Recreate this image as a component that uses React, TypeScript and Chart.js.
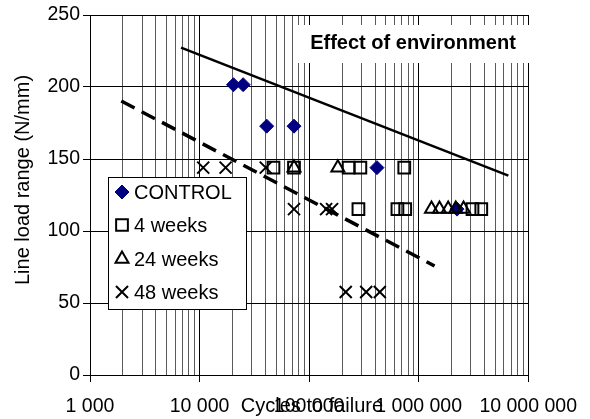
import React, { useEffect, useRef } from 'react';
import { Chart, registerables } from 'chart.js';
import { drawPoint } from 'chart.js/helpers';

Chart.register(...registerables);

// ---- Data ----
const controlX = [20400, 25000, 41000, 72800, 416000, 2240000];
const controlY = [201.6, 201.6, 172.8, 172.8, 144, 115.2];

const weeks4X = [47300, 72800, 229500, 293700, 739000, 282000, 640000, 754000, 3100000, 3730000];
const weeks4Y = [144, 144, 144, 144, 144, 115.2, 115.2, 115.2, 115.2, 115.2];

const weeks24X = [72800, 183000, 1310000, 1550000, 1860000, 2180000, 2570000];
const weeks24Y = [144, 144, 115.2, 115.2, 115.2, 115.2, 115.2];

const weeks48X = [10800, 17300, 40200, 72800, 143000, 162000, 216000, 332000, 442000];
const weeks48Y = [144, 144, 144, 115.2, 115.2, 115.2, 57.6, 57.6, 57.6];

const solidLineX = [6780, 6590000];
const solidLineY = [227.3, 138.4];

const dashedLineX = [1930, 1397000];
const dashedLineY = [190.3, 75.7];

const seriesLabels = ['CONTROL', '4 weeks', '24 weeks', '48 weeks'];

const xDecades = [1000, 10000, 100000, 1000000, 10000000];
const xTickLabels = ['1 000', '10 000', '100 000', '1 000 000', '10 000 000'];
const xMultipliers = [1, 2, 3, 4, 5, 6, 7, 8, 9];
const yTickStep = 50;
const yMin = 0;
const yMax = 250;

const xTitle = 'Cycles to failure';
const yTitle = 'Line load range (N/mm)';
const noteText = 'Effect of environment';

const FONT = '"Liberation Sans", Arial, sans-serif';

const pts = (xs: number[], ys: number[]) => xs.map((x, i) => ({ x, y: ys[i] }));

const xGridValues: number[] = [];
xDecades.forEach((d, i) => {
  if (i === xDecades.length - 1) {
    xGridValues.push(d);
  } else {
    xMultipliers.forEach((m) => xGridValues.push(d * m));
  }
});

const isDecade = (v: number) => xDecades.some((d) => Math.abs(d - v) < 1e-6 * d);

const overlayPlugin = {
  id: 'overlay',
  beforeDatasetsDraw(chart: any) {
    const ctx = chart.ctx;
    ctx.save();
    ctx.fillStyle = '#ffffff';
    ctx.fillRect(297, 25, 240, 38);
    ctx.fillStyle = '#000';
    ctx.font = `bold 20px ${FONT}`;
    ctx.textAlign = 'center';
    ctx.textBaseline = 'middle';
    ctx.fillText(noteText, 413, 43);
    ctx.restore();
  },
  afterDraw(chart: any) {
    const ctx = chart.ctx;
    ctx.save();
    // Legend box
    const lx = 108, ly = 177, lw = 138, lh = 132;
    ctx.fillStyle = '#fff';
    ctx.fillRect(lx, ly, lw, lh);
    ctx.strokeStyle = '#000';
    ctx.lineWidth = 1;
    ctx.strokeRect(lx + 0.5, ly + 0.5, lw, lh);
    const rowYs = [192, 225, 259, 292];
    seriesLabels.forEach((label, i) => {
      const ds = chart.data.datasets[i];
      ctx.save();
      ctx.fillStyle = ds.backgroundColor;
      ctx.strokeStyle = ds.borderColor;
      ctx.lineWidth = ds.borderWidth;
      drawPoint(ctx, { pointStyle: ds.pointStyle, radius: ds.pointRadius, rotation: 0, borderWidth: ds.borderWidth }, 122, rowYs[i]);
      ctx.restore();
      ctx.fillStyle = '#000';
      ctx.font = `20px ${FONT}`;
      ctx.textAlign = 'left';
      ctx.textBaseline = 'middle';
      ctx.fillText(label, 134, rowYs[i] + 1);
    });
    // Axis titles
    ctx.fillStyle = '#000';
    ctx.font = `20px ${FONT}`;
    ctx.textAlign = 'center';
    ctx.textBaseline = 'middle';
    ctx.fillText(xTitle, 312, 406);
    ctx.translate(23, 180);
    ctx.rotate(-Math.PI / 2);
    ctx.fillText(yTitle, 0, 0);
    ctx.restore();
  },
};

export default function App() {
  const ref = useRef<HTMLCanvasElement | null>(null);

  useEffect(() => {
    if (!ref.current) return;
    const chart = new Chart(ref.current, {
      type: 'scatter',
      data: {
        datasets: [
          {
            label: seriesLabels[0],
            data: pts(controlX, controlY),
            pointStyle: 'rectRot',
            pointRadius: 7,
            backgroundColor: '#000080',
            borderColor: '#000080',
            borderWidth: 1,
            order: 4,
          },
          {
            label: seriesLabels[1],
            data: pts(weeks4X, weeks4Y),
            pointStyle: 'rect',
            pointRadius: 8.3,
            backgroundColor: 'rgba(0,0,0,0)',
            borderColor: '#000',
            borderWidth: 2,
            order: 3,
          },
          {
            label: seriesLabels[2],
            data: pts(weeks24X, weeks24Y),
            pointStyle: 'triangle',
            pointRadius: 7.5,
            backgroundColor: 'rgba(0,0,0,0)',
            borderColor: '#000',
            borderWidth: 2,
            order: 2,
          },
          {
            label: seriesLabels[3],
            data: pts(weeks48X, weeks48Y),
            pointStyle: 'crossRot',
            pointRadius: 8.5,
            backgroundColor: 'rgba(0,0,0,0)',
            borderColor: '#000',
            borderWidth: 2,
            order: 1,
          },
          {
            label: 'solid',
            data: pts(solidLineX, solidLineY),
            showLine: true,
            pointRadius: 0,
            borderColor: '#000',
            borderWidth: 2.5,
            order: 0,
          },
          {
            label: 'dashed',
            data: pts(dashedLineX, dashedLineY),
            showLine: true,
            pointRadius: 0,
            borderColor: '#000',
            borderWidth: 3.5,
            borderDash: [15, 8],
            order: 0,
          },
        ],
      } as any,
      options: {
        animation: false,
        responsive: false,
        events: [],
        layout: { padding: { left: 0, right: 51, top: 15, bottom: 0 } },
        plugins: {
          legend: { display: false },
          tooltip: { enabled: false },
        },
        scales: {
          x: {
            type: 'logarithmic',
            min: xDecades[0],
            max: xDecades[xDecades.length - 1],
            afterBuildTicks: (s: any) => {
              s.ticks = xGridValues.map((v) => ({ value: v, major: isDecade(v) }));
            },
            afterFit: (s: any) => {
              s.height = 44;
            },
            grid: {
              color: (c: any) => (c.tick && isDecade(c.tick.value) ? '#000' : '#5a5a5a'),
              tickColor: (c: any) => (c.tick && isDecade(c.tick.value) ? '#000' : 'rgba(0,0,0,0)'),
              tickLength: 7,
              lineWidth: 1,
            },
            border: { color: '#000', width: 1 },
            ticks: {
              autoSkip: false,
              maxRotation: 0,
              minRotation: 0,
              padding: 13,
              color: '#000',
              font: { family: FONT, size: 19.5 },
              callback: (v: any) => {
                const i = xDecades.findIndex((d) => Math.abs(d - Number(v)) < 1e-6 * d);
                return i >= 0 ? xTickLabels[i] : '';
              },
            },
          },
          y: {
            min: yMin,
            max: yMax,
            afterFit: (s: any) => {
              s.width = 90;
            },
            grid: { color: '#000', tickColor: '#000', tickLength: 7, lineWidth: 1 },
            border: { color: '#000', width: 1 },
            ticks: {
              stepSize: yTickStep,
              padding: 3,
              color: '#000',
              font: { family: FONT, size: 19.5 },
            },
          },
        },
      } as any,
      plugins: [overlayPlugin],
    });
    return () => chart.destroy();
  }, []);

  return (
    <div style={{ position: 'fixed', left: 0, top: 0, width: 590, height: 419, background: '#fff' }}>
      <canvas ref={ref} width={590} height={419} style={{ display: 'block' }} />
    </div>
  );
}
